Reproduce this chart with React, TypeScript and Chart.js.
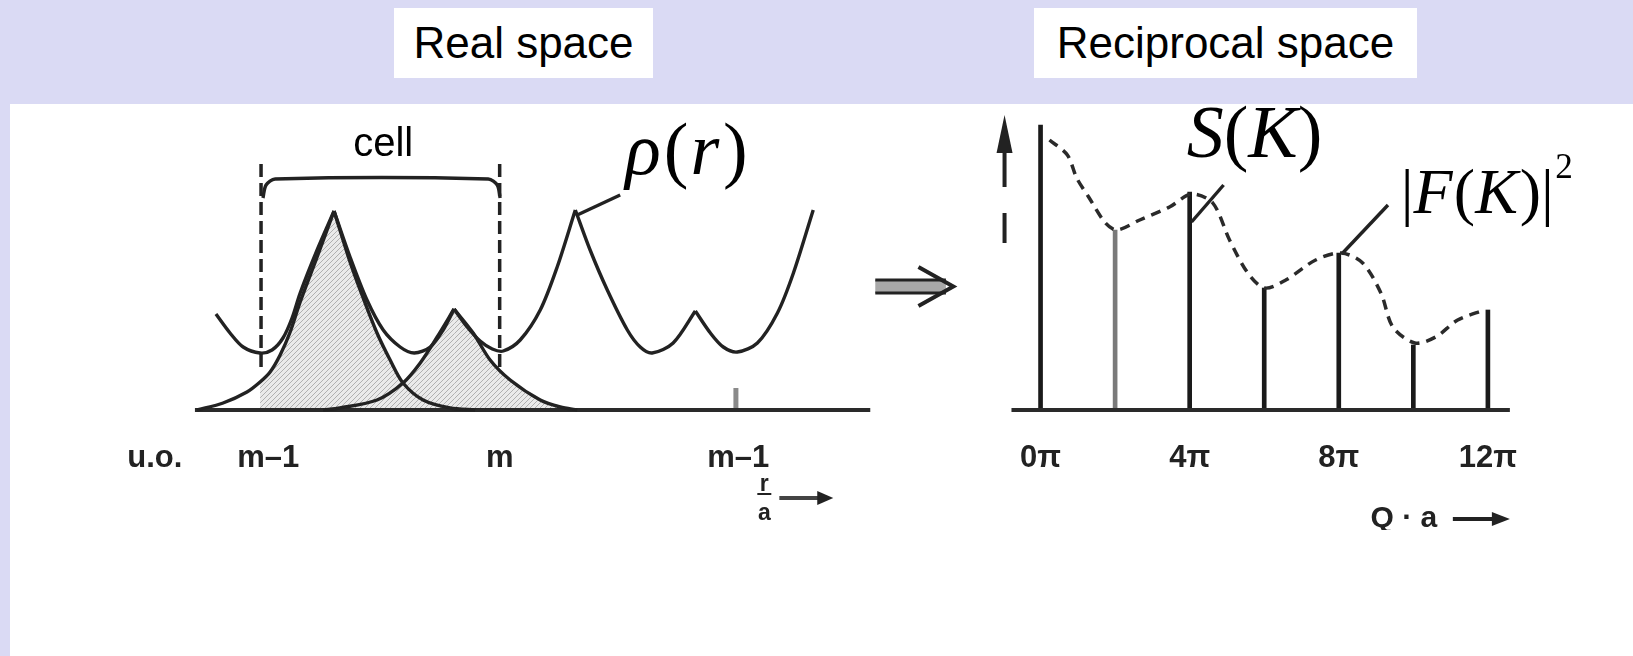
import React, { useEffect, useRef } from "react";
import { Chart, registerables } from "chart.js";

Chart.register(...registerables);

const INK = "#222222";
const LAVENDER = "#dadaf4";
const SANS = "'Liberation Sans', Arial, Helvetica, sans-serif";
const SERIF = "'Liberation Serif', 'Times New Roman', Times, serif";

// ---------------- Real space (x in units of r/a, y = density) ----------------
const realTickValues = [-0.445, 0.03, 1.0, 2.0];
const realTickLabels = ["u.o.", "m–1", "m", "m–1"];

const rhoX = [-0.189, -0.13, -0.075, -0.004, 0.046, 0.092, 0.13, 0.164, 0.235, 0.306, 0.373, 0.444, 0.512, 0.583, 0.642, 0.709, 0.763, 0.809, 0.864, 0.918, 0.969, 1.015, 1.086, 1.17, 1.241, 1.317, 1.379, 1.451, 1.535, 1.589, 1.639, 1.727, 1.82, 1.883, 1.937, 1.996, 2.08, 2.164, 2.231, 2.314];
const rhoY = [0.48, 0.385, 0.315, 0.285, 0.3, 0.36, 0.46, 0.585, 0.8, 0.995, 0.765, 0.55, 0.4, 0.315, 0.285, 0.315, 0.4, 0.505, 0.415, 0.345, 0.305, 0.295, 0.35, 0.5, 0.715, 1.0, 0.8, 0.6, 0.4, 0.315, 0.285, 0.335, 0.495, 0.385, 0.315, 0.29, 0.335, 0.485, 0.685, 1.0];

const atomAX = [-0.268, -0.159, -0.059, -0.004, 0.038, 0.08, 0.122, 0.164, 0.235, 0.306, 0.373, 0.428, 0.486, 0.541, 0.595, 0.679, 0.792, 0.897];
const atomAY = [0, 0.035, 0.09, 0.14, 0.19, 0.275, 0.39, 0.54, 0.765, 0.995, 0.74, 0.56, 0.385, 0.25, 0.135, 0.05, 0.01, 0];

const atomBX = [0.26, 0.331, 0.486, 0.595, 0.667, 0.738, 0.809, 0.889, 0.96, 1.044, 1.17, 1.254, 1.325];
const atomBY = [0, 0.01, 0.05, 0.135, 0.235, 0.365, 0.505, 0.385, 0.25, 0.15, 0.05, 0.015, 0];

const cellEdgesX = [0, 1.0];
const cellEdgeY = [0.215, 1.24];
const bracketX = [0.008, 0.021, 0.059, 0.952, 0.99, 1.002];
const bracketY = [1.06, 1.125, 1.155, 1.155, 1.125, 1.06];
const realAxisX = [-0.277, 2.553];
const realTickMarkX = 1.99;
const realTickMarkY = [0, 0.11];
const rhoLeaderX = [1.325, 1.505];
const rhoLeaderY = [0.975, 1.075];

// ---------------- Reciprocal space (x = Q·a / π, y = intensity) ----------------
const recipTickValues = [0, 4, 8, 12];
const recipTickLabels = ["0π", "4π", "8π", "12π"];
const braggQ = [0, 2, 4, 6, 8, 10, 12];
const braggI = [2.85, 1.8, 2.18, 1.22, 1.57, 0.65, 1.0];
const structX = [0.24, 0.72, 0.97, 1.29, 1.74, 2.05, 2.66, 3.46, 4.05, 4.62, 5.07, 5.56, 6.01, 6.58, 7.38, 8.07, 8.64, 9.13, 9.45, 10.04, 10.6, 11.19, 11.9];
const structY = [2.7, 2.55, 2.32, 2.13, 1.87, 1.8, 1.9, 2.03, 2.16, 2.07, 1.7, 1.37, 1.22, 1.3, 1.5, 1.57, 1.47, 1.17, 0.83, 0.67, 0.73, 0.9, 1.0];
const recipAxisX = [-0.78, 12.59];
const sLeaderX = [4.05, 4.91];
const sLeaderY = [1.88, 2.25];
const fLeaderX = [8.08, 9.32];
const fLeaderY = [1.56, 2.05];

const braggColors = ["#1a1a1a", "#7a7a7a", "#1a1a1a", "#1a1a1a", "#1a1a1a", "#1a1a1a", "#1a1a1a"];

type Pt = { x: number; y: number | null };

function plain(xs: number[], ys: number[]): Pt[] {
  return xs.map((x, i) => ({ x, y: ys[i] }));
}

// keeps cusps sharp: break the spline at every local maximum
function cusped(xs: number[], ys: number[]): Pt[] {
  const pts: Pt[] = [];
  for (let i = 0; i < xs.length; i++) {
    pts.push({ x: xs[i], y: ys[i] });
    const peak = i > 0 && i < xs.length - 1 && ys[i] > ys[i - 1] && ys[i] > ys[i + 1];
    if (peak) {
      pts.push({ x: xs[i], y: null });
      pts.push({ x: xs[i], y: ys[i] });
    }
  }
  return pts;
}

function lineDs(data: Pt[], extra: any = {}) {
  return {
    type: "line",
    data,
    borderColor: INK,
    borderWidth: 3.4,
    pointRadius: 0,
    fill: false,
    tension: 0,
    spanGaps: false,
    ...extra,
  };
}

type Glyph = { t: string; i?: boolean; s?: number; r?: number; g?: number };
function drawMath(ctx: CanvasRenderingContext2D, parts: Glyph[], x: number, y: number, size: number) {
  let cx = x;
  ctx.textAlign = "left";
  ctx.textBaseline = "alphabetic";
  for (const p of parts) {
    const fs = size * (p.s ?? 1);
    ctx.font = `${p.i ? "italic " : ""}${fs}px ${SERIF}`;
    ctx.fillText(p.t, cx, y - (p.r ?? 0) * size);
    cx += ctx.measureText(p.t).width + (p.g ?? 0) * size;
  }
}

function arrowHead(ctx: CanvasRenderingContext2D, tx: number, ty: number, dx: number, dy: number, len: number, half: number) {
  const nx = -dy, ny = dx;
  const bx = tx - dx * len, by = ty - dy * len;
  ctx.beginPath();
  ctx.moveTo(tx, ty);
  ctx.lineTo(bx + nx * half, by + ny * half);
  ctx.lineTo(bx - nx * half, by - ny * half);
  ctx.closePath();
  ctx.fill();
}

function makeHatch(): CanvasPattern | string {
  const c = document.createElement("canvas");
  c.width = 5;
  c.height = 5;
  const g = c.getContext("2d");
  if (!g) return "#dddddd";
  g.fillStyle = "#eaeaea";
  g.fillRect(0, 0, 5, 5);
  g.strokeStyle = "#b0b0b0";
  g.lineWidth = 1;
  g.beginPath();
  g.moveTo(0, 5);
  g.lineTo(5, 0);
  g.stroke();
  const p = g.createPattern(c, "repeat");
  return p || "#dddddd";
}

function xAxis(min: number, max: number, values: number[], labels: string[]) {
  return {
    type: "linear",
    min,
    max,
    offset: false,
    grid: { display: false, drawTicks: false },
    border: { display: false },
    afterBuildTicks: (s: any) => {
      s.ticks = values.map((v) => ({ value: v }));
    },
    afterFit: (s: any) => {
      s.height = 100;
    },
    ticks: {
      autoSkip: false,
      maxRotation: 0,
      minRotation: 0,
      padding: 10,
      color: INK,
      font: { family: SANS, size: 31, weight: "bold" },
      callback: (_v: any, i: number) => labels[i],
    },
  };
}

const realAnno = {
  id: "realAnno",
  afterDraw(chart: any) {
    const { ctx } = chart;
    const X = (v: number) => chart.scales.x.getPixelForValue(v);
    const Y = (v: number) => chart.scales.y.getPixelForValue(v);
    ctx.save();
    ctx.fillStyle = "#000";
    ctx.textAlign = "center";
    ctx.textBaseline = "alphabetic";
    ctx.font = `40px ${SANS}`;
    ctx.fillText("cell", X(0.512), Y(1.27));
    drawMath(
      ctx,
      [{ t: "ρ", i: true, g: 0.04 }, { t: "(", g: 0.03 }, { t: "r", i: true, g: 0.05 }, { t: ")" }],
      X(1.526),
      Y(1.18),
      74
    );

    // double arrow between panels
    const ax0 = X(2.574), ax1 = X(2.87), ay1 = Y(0.65), ay2 = Y(0.585);
    ctx.fillStyle = "#a8a8a8";
    ctx.fillRect(ax0, ay1, ax1 - ax0, ay2 - ay1);
    ctx.strokeStyle = INK;
    ctx.lineWidth = 3;
    ctx.beginPath();
    ctx.moveTo(ax0, ay1);
    ctx.lineTo(ax1, ay1);
    ctx.moveTo(ax0, ay2);
    ctx.lineTo(ax1, ay2);
    ctx.stroke();
    ctx.lineWidth = 4;
    ctx.beginPath();
    ctx.moveTo(X(2.755), Y(0.715));
    ctx.lineTo(X(2.901), Y(0.618));
    ctx.lineTo(X(2.755), Y(0.52));
    ctx.stroke();

    // r/a label with arrow
    ctx.fillStyle = INK;
    ctx.font = `bold 23px ${SANS}`;
    ctx.textAlign = "center";
    ctx.textBaseline = "middle";
    const fx = X(2.109);
    ctx.fillText("r", fx, Y(-0.375));
    ctx.fillText("a", fx, Y(-0.52));
    ctx.lineWidth = 2;
    ctx.beginPath();
    ctx.moveTo(fx - 7, Y(-0.42));
    ctx.lineTo(fx + 7, Y(-0.42));
    ctx.stroke();
    ctx.strokeStyle = "#444";
    ctx.lineWidth = 4;
    ctx.beginPath();
    ctx.moveTo(X(2.172), Y(-0.44));
    ctx.lineTo(X(2.34), Y(-0.44));
    ctx.stroke();
    arrowHead(ctx, X(2.398), Y(-0.44), 1, 0, 16, 7);
    ctx.restore();
  },
};

const recipAnno = {
  id: "recipAnno",
  afterDraw(chart: any) {
    const { ctx } = chart;
    const X = (v: number) => chart.scales.x.getPixelForValue(v);
    const Y = (v: number) => chart.scales.y.getPixelForValue(v);
    ctx.save();
    // dashed up-arrow (off-scale forward peak)
    const ux = X(-0.966);
    ctx.strokeStyle = INK;
    ctx.fillStyle = INK;
    ctx.lineWidth = 4;
    ctx.beginPath();
    ctx.moveTo(ux, Y(2.23));
    ctx.lineTo(ux, Y(2.6));
    ctx.moveTo(ux, Y(1.67));
    ctx.lineTo(ux, Y(1.97));
    ctx.stroke();
    arrowHead(ctx, ux, Y(2.95), 0, -1, Y(2.57) - Y(2.95), 8);

    ctx.fillStyle = "#000";
    drawMath(ctx, [{ t: "S", i: true }, { t: "(" }, { t: "K", i: true }, { t: ")" }], X(3.92), Y(2.53), 74);
    drawMath(
      ctx,
      [{ t: "|" }, { t: "F", i: true, g: 0.02 }, { t: "(" }, { t: "K", i: true, g: 0.03 }, { t: ")" }, { t: "|", g: 0.02 }, { t: "2", s: 0.55, r: 0.55 }],
      X(9.66),
      Y(1.97),
      64
    );

    ctx.fillStyle = INK;
    ctx.font = `bold 30px ${SANS}`;
    ctx.textAlign = "center";
    ctx.textBaseline = "middle";
    ctx.fillText("Q · a", X(9.745), Y(-1.09));
    ctx.strokeStyle = INK;
    ctx.lineWidth = 4;
    ctx.beginPath();
    ctx.moveTo(X(11.06), Y(-1.09));
    ctx.lineTo(X(12.2), Y(-1.09));
    ctx.stroke();
    arrowHead(ctx, X(12.59), Y(-1.09), 1, 0, 18, 7);
    ctx.restore();
  },
};

export default function App() {
  const leftRef = useRef<HTMLCanvasElement | null>(null);
  const rightRef = useRef<HTMLCanvasElement | null>(null);

  useEffect(() => {
    if (!leftRef.current || !rightRef.current) return;
    const hatch = makeHatch();

    const aPts = cusped(atomAX, atomAY);
    const bPts = cusped(atomBX, atomBY);
    const aFillPts = aPts.filter((p) => p.x >= cellEdgesX[0] - 0.01);

    const common = {
      responsive: false,
      animation: false,
      events: [],
      layout: { padding: 0 },
      plugins: { legend: { display: false }, tooltip: { enabled: false }, title: { display: false } },
      elements: { point: { radius: 0 } },
    };

    const left = new Chart(leftRef.current, {
      type: "line",
      data: {
        datasets: [
          lineDs(cusped(rhoX, rhoY), { tension: 0.3 }),
          lineDs(aPts, { tension: 0.3 }),
          lineDs(bPts, { tension: 0.3 }),
          lineDs(plain(bracketX, bracketY), { tension: 0.3 }),
          lineDs(plain([cellEdgesX[0], cellEdgesX[0]], cellEdgeY), { borderDash: [13, 6], borderWidth: 3.5 }),
          lineDs(plain([cellEdgesX[1], cellEdgesX[1]], cellEdgeY), { borderDash: [13, 6], borderWidth: 3.5 }),
          lineDs(plain(rhoLeaderX, rhoLeaderY)),
          lineDs(plain(realAxisX, [0, 0]), { borderWidth: 4, borderColor: "#2a2a2a" }),
          lineDs(plain([realTickMarkX, realTickMarkX], realTickMarkY), { borderWidth: 5, borderColor: "#8a8a8a" }),
          lineDs(aFillPts, { tension: 0.3, borderWidth: 0, fill: "origin", backgroundColor: hatch }),
          lineDs(bPts, { tension: 0.3, borderWidth: 0, fill: "origin", backgroundColor: hatch }),
        ] as any,
      },
      options: {
        ...common,
        scales: {
          x: xAxis(-0.7, 2.95, realTickValues, realTickLabels),
          y: { type: "linear", display: false, min: -0.1, max: 1.53 },
        },
      } as any,
      plugins: [realAnno],
    });

    const right = new Chart(rightRef.current, {
      type: "line",
      data: {
        datasets: [
          lineDs(plain(structX, structY), { tension: 0.3, borderDash: [10, 7], borderWidth: 3.5, borderColor: "#2a2a2a" }),
          lineDs(plain(sLeaderX, sLeaderY)),
          lineDs(plain(fLeaderX, fLeaderY)),
          lineDs(plain(recipAxisX, [0, 0]), { borderWidth: 4, borderColor: "#2a2a2a" }),
          {
            type: "bar",
            data: plain(braggQ, braggI),
            backgroundColor: braggColors,
            borderWidth: 0,
            barThickness: 4,
          },
        ] as any,
      },
      options: {
        ...common,
        scales: {
          x: xAxis(-2, 16, recipTickValues, recipTickLabels),
          y: { type: "linear", display: false, min: -0.2, max: 3.06 },
        },
      } as any,
      plugins: [recipAnno],
    });

    return () => {
      left.destroy();
      right.destroy();
    };
  }, []);

  const box: React.CSSProperties = {
    position: "absolute",
    top: 8,
    height: 70,
    background: "#fff",
    display: "flex",
    alignItems: "center",
    justifyContent: "center",
    font: `44px ${SANS}`,
    color: "#000",
    whiteSpace: "nowrap",
  };

  return (
    <div style={{ position: "absolute", left: 0, top: 0, width: 1633, height: 656, background: LAVENDER, overflow: "hidden" }}>
      <div style={{ position: "absolute", left: 10, top: 104, right: 0, bottom: 0, background: "#fff" }} />
      <div style={{ ...box, left: 394, width: 259 }}>Real space</div>
      <div style={{ ...box, left: 1034, width: 383 }}>Reciprocal space</div>
      <canvas ref={leftRef} width={871} height={426} style={{ position: "absolute", left: 94, top: 104 }} />
      <canvas ref={rightRef} width={671} height={426} style={{ position: "absolute", left: 966, top: 104 }} />
    </div>
  );
}
